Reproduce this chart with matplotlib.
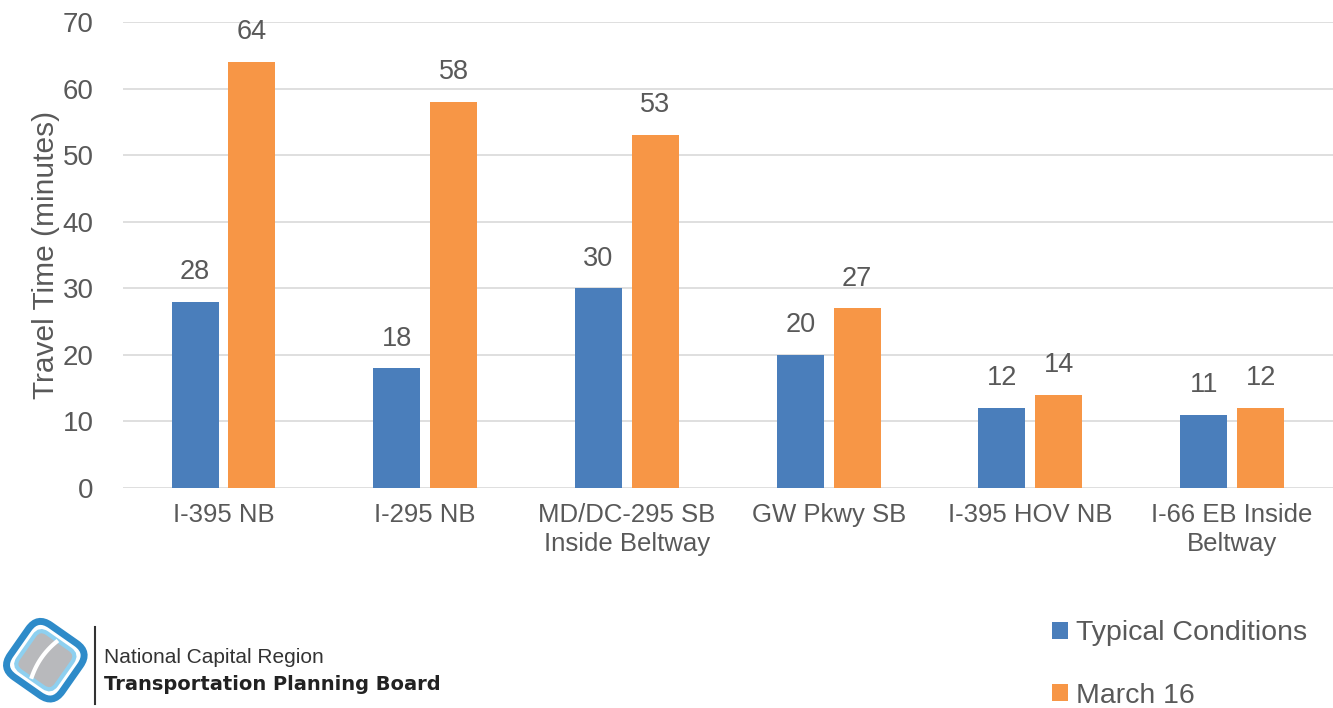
import matplotlib.pyplot as plt
import matplotlib.patches as mpatches
import matplotlib.transforms as mtransforms
import numpy as np

# Travel times by corridor
corridors = ["I-395 NB", "I-295 NB", "MD/DC-295 SB\nInside Beltway", "GW Pkwy SB",
             "I-395 HOV NB", "I-66 EB Inside\nBeltway"]
typical = [28, 18, 30, 20, 12, 11]
march16 = [64, 58, 53, 27, 14, 12]
y_ticks = [0, 10, 20, 30, 40, 50, 60, 70]

blue = "#4A7EBB"
orange = "#F79646"
text_gray = "#595959"

plt.rcParams["font.family"] = ["Liberation Sans", "DejaVu Sans"]

fig = plt.figure(figsize=(13.33, 7.08), dpi=100)
ax = fig.add_axes([0.092, 0.3107, 0.908, 0.6583])

x = np.arange(len(corridors))
w = 0.233
off = 0.141
b1 = ax.bar(x - off, typical, w, color=blue, label="Typical Conditions", zorder=3)
b2 = ax.bar(x + off, march16, w, color=orange, label="March 16", zorder=3)

for bars, vals in [(b1, typical), (b2, march16)]:
    for rect, v in zip(bars, vals):
        ax.annotate(str(v), (rect.get_x() + rect.get_width() / 2, v),
                    xytext=(0, 12), textcoords="offset points",
                    ha="center", va="bottom", fontsize=19.5, color=text_gray)

ax.set_xlim(-0.5, len(corridors) - 0.5)
ax.set_ylim(0, 70)
ax.set_yticks(y_ticks)
ax.set_xticks(x)
ax.set_xticklabels(corridors, fontsize=18.5, color=text_gray, linespacing=1.25)
ax.tick_params(axis="y", labelsize=20, labelcolor=text_gray, length=0, pad=21)
ax.tick_params(axis="x", length=0, pad=11)
ax.yaxis.grid(True, color="#D9D9D9", linewidth=1.2, zorder=0)
for s in ax.spines.values():
    s.set_visible(False)
ax.set_ylabel("Travel Time (minutes)", fontsize=21.5, color=text_gray, labelpad=2)

# legend, bottom right
fig.legend(handles=[b1, b2], loc="upper left", bbox_to_anchor=(0.770, 0.16),
           frameon=False, fontsize=20.5, labelcolor=text_gray,
           handlelength=0.55, handleheight=0.55, handletextpad=0.3, labelspacing=1.27)

# logo, bottom left
lax = fig.add_axes([0.0, 0.0, 0.068, 0.135])
lax.set_xlim(-1, 1)
lax.set_ylim(-1, 1)
lax.set_aspect("equal")
lax.axis("off")
rot = mtransforms.Affine2D().rotate_deg(-35) + lax.transData
outer = mpatches.FancyBboxPatch((-0.6, -0.6), 1.2, 1.2, boxstyle="round,pad=0.1,rounding_size=0.35",
                                facecolor="none", edgecolor="#2E8BC9", linewidth=5, transform=rot)
inner = mpatches.FancyBboxPatch((-0.47, -0.47), 0.94, 0.94, boxstyle="round,pad=0.04,rounding_size=0.2",
                                facecolor="#B8B9BC", edgecolor="#8ED0F0", linewidth=3, transform=rot)
lax.add_patch(outer)
lax.add_patch(inner)
t = np.linspace(-0.47, 0.47, 30)
lax.plot(-0.1 + 0.3 * t ** 2, t, color="white", lw=3, transform=rot)

fig.add_artist(plt.Line2D([0.0713, 0.0713], [0.005, 0.115], transform=fig.transFigure,
                          color="#333333", linewidth=1.5))
fig.text(0.078, 0.072, "National Capital Region", fontsize=15, color="#333333", va="center")
fig.text(0.078, 0.033, "Transportation Planning Board", fontsize=14, color="#222222",
         va="center", fontweight="bold", family=["DejaVu Sans"])

fig.savefig("out.png", dpi=100)
